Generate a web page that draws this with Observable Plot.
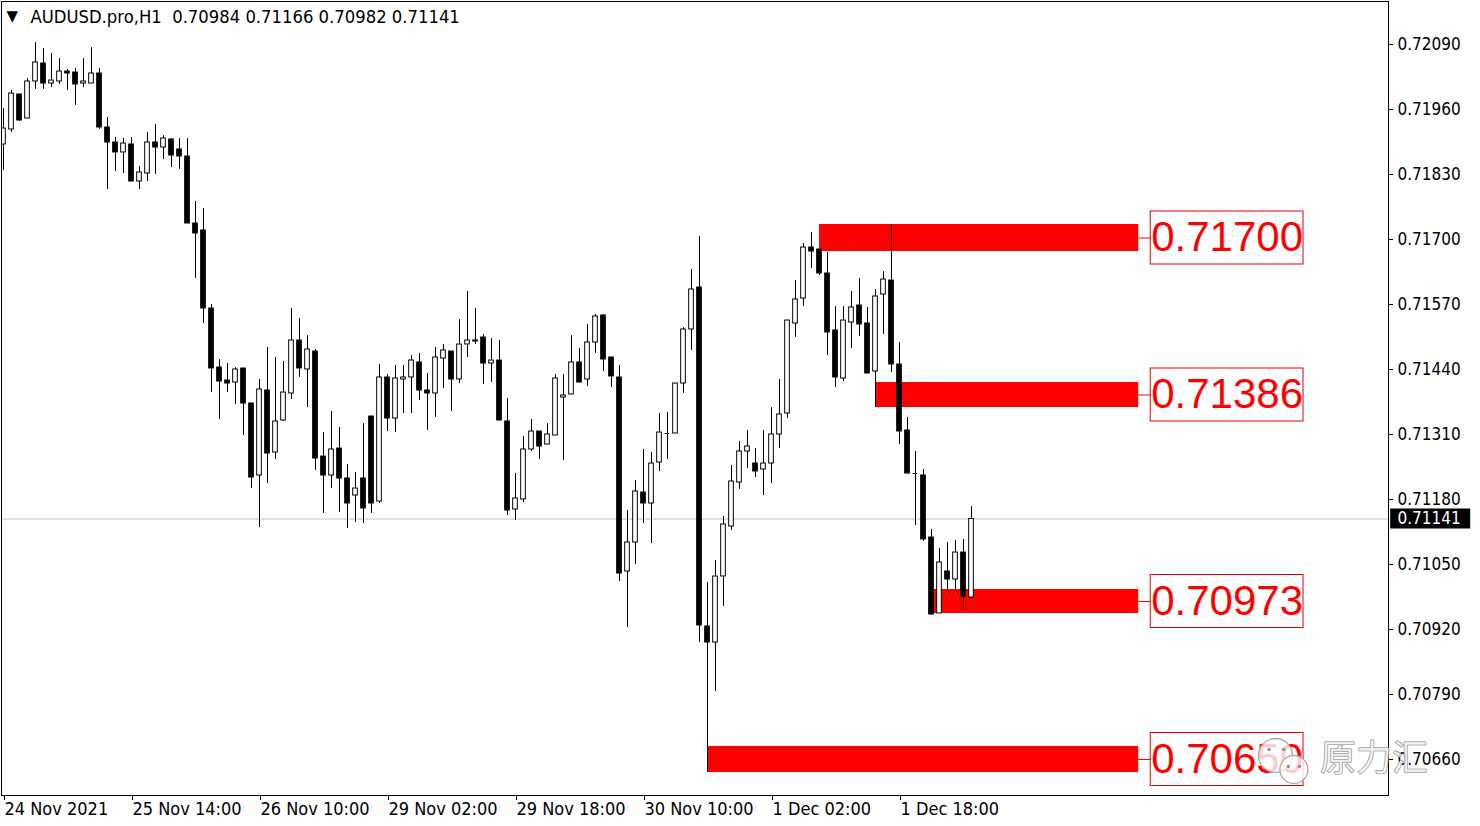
<!DOCTYPE html>
<html>
<head>
<meta charset="utf-8">
<script src="https://cdn.jsdelivr.net/npm/d3@7"></script>
<script src="https://cdn.jsdelivr.net/npm/@observablehq/plot@0.6"></script>
<style>
  html, body { margin: 0; padding: 0; background: #ffffff; }
  #chart svg { display: block; }
</style>
</head>
<body>
<div id="chart"></div>
<script>
// ---------- data ----------
const symbol = "AUDUSD.pro,H1";
const lastOHLC = [0.70984, 0.71166, 0.70982, 0.71141];
const currentPrice = 0.71141;

const open = [0.71890,0.71920,0.71990,0.71942,0.72016,0.72052,0.72012,0.72016,0.72036,0.72034,
0.72012,0.72012,0.72032,0.71924,0.71894,0.71874,0.71890,0.71816,0.71832,0.71894,
0.71884,0.71900,0.71880,0.71866,0.71732,0.71718,0.71562,0.71444,0.71418,0.71414,
0.71442,0.71372,0.71228,0.71398,0.71274,0.71338,0.71392,0.71498,0.71440,0.71476,
0.71266,0.71228,0.71282,0.71222,0.71188,0.71222,0.71346,0.71176,0.71424,0.71342,
0.71420,0.71424,0.71454,0.71398,0.71392,0.71462,0.71476,0.71420,0.71490,0.71496,
0.71504,0.71452,0.71458,0.71336,0.71160,0.71180,0.71280,0.71316,0.71290,0.71308,
0.71384,0.71390,0.71454,0.71420,0.71494,0.71548,0.71464,0.71424,0.71036,0.71094,
0.71194,0.71172,0.71254,0.71312,0.71312,0.71412,0.71520,0.71604,0.70926,0.70894,
0.71026,0.71126,0.71214,0.71276,0.71252,0.71240,0.71252,0.71310,0.71352,0.71532,
0.71582,0.71684,0.71680,0.71632,0.71518,0.71422,0.71534,0.71568,0.71532,0.71436,
0.71590,0.71618,0.71450,0.71318,0.71232,0.71228,0.71104,0.70952,0.71036,0.71020,
0.71074,0.70984];

const high = [0.71962,0.71998,0.71990,0.72022,0.72094,0.72082,0.72072,0.72062,0.72040,0.72042,
0.72062,0.72084,0.72042,0.71944,0.71904,0.71902,0.71904,0.71846,0.71914,0.71930,
0.71908,0.71902,0.71902,0.71902,0.71776,0.71762,0.71570,0.71460,0.71452,0.71444,
0.71442,0.71372,0.71420,0.71484,0.71464,0.71456,0.71562,0.71542,0.71508,0.71480,
0.71314,0.71356,0.71324,0.71250,0.71234,0.71332,0.71346,0.71450,0.71430,0.71448,
0.71448,0.71468,0.71472,0.71432,0.71484,0.71490,0.71476,0.71540,0.71596,0.71562,
0.71510,0.71502,0.71498,0.71382,0.71232,0.71306,0.71340,0.71316,0.71332,0.71430,
0.71430,0.71508,0.71482,0.71530,0.71550,0.71550,0.71464,0.71448,0.71158,0.71218,
0.71280,0.71274,0.71352,0.71354,0.71412,0.71524,0.71640,0.71706,0.71014,0.71058,
0.71146,0.71248,0.71296,0.71318,0.71282,0.71318,0.71364,0.71420,0.71538,0.71618,
0.71692,0.71714,0.71680,0.71674,0.71566,0.71566,0.71596,0.71622,0.71564,0.71600,
0.71636,0.71730,0.71494,0.71344,0.71276,0.71240,0.71120,0.71082,0.71094,0.71098,
0.71100,0.71166];

const low = [0.71838,0.71914,0.71936,0.71942,0.72000,0.72000,0.72004,0.72010,0.71998,0.71968,
0.72004,0.72012,0.71920,0.71800,0.71836,0.71832,0.71816,0.71800,0.71816,0.71830,
0.71860,0.71844,0.71840,0.71732,0.71622,0.71532,0.71394,0.71340,0.71394,0.71370,
0.71308,0.71202,0.71124,0.71212,0.71260,0.71336,0.71380,0.71424,0.71364,0.71238,
0.71152,0.71202,0.71154,0.71122,0.71134,0.71132,0.71152,0.71172,0.71316,0.71314,
0.71352,0.71352,0.71378,0.71318,0.71344,0.71402,0.71356,0.71412,0.71464,0.71490,
0.71410,0.71414,0.71338,0.71148,0.71138,0.71174,0.71276,0.71260,0.71290,0.71308,
0.71258,0.71390,0.71414,0.71406,0.71472,0.71436,0.71404,0.71016,0.70924,0.71050,
0.71132,0.71092,0.71236,0.71260,0.71312,0.71392,0.71478,0.70894,0.70634,0.70796,
0.70966,0.71118,0.71200,0.71242,0.71224,0.71188,0.71212,0.71282,0.71342,0.71504,
0.71566,0.71642,0.71628,0.71468,0.71404,0.71416,0.71482,0.71506,0.71432,0.71364,
0.71510,0.71434,0.71290,0.71230,0.71128,0.71096,0.70948,0.70952,0.70986,0.70986,
0.70958,0.70982];

const close = [0.71922,0.71992,0.71938,0.72016,0.72054,0.72012,0.72018,0.72036,0.72032,0.72010,
0.72016,0.72032,0.71924,0.71894,0.71874,0.71892,0.71816,0.71834,0.71894,0.71884,
0.71902,0.71868,0.71866,0.71732,0.71712,0.71562,0.71442,0.71416,0.71412,0.71440,
0.71372,0.71224,0.71400,0.71272,0.71336,0.71394,0.71498,0.71442,0.71480,0.71262,
0.71228,0.71280,0.71222,0.71172,0.71202,0.71162,0.71172,0.71424,0.71342,0.71422,
0.71424,0.71458,0.71398,0.71392,0.71464,0.71478,0.71420,0.71490,0.71498,0.71498,
0.71452,0.71458,0.71338,0.71158,0.71182,0.71280,0.71316,0.71286,0.71310,0.71422,
0.71388,0.71454,0.71414,0.71494,0.71546,0.71460,0.71426,0.71032,0.71094,0.71196,
0.71172,0.71252,0.71314,0.71312,0.71412,0.71520,0.71600,0.70928,0.70894,0.71026,
0.71130,0.71216,0.71276,0.71286,0.71236,0.71252,0.71310,0.71350,0.71538,0.71580,
0.71684,0.71676,0.71632,0.71514,0.71424,0.71538,0.71564,0.71530,0.71432,0.71586,
0.71620,0.71450,0.71316,0.71232,0.71232,0.71100,0.70950,0.71054,0.71020,0.71074,
0.70986,0.71141];

// time axis: bar index of each tick, and its label
const timeTickBars = [0, 16, 32, 48, 64, 80, 96, 112];
const timeTickLabels = ["24 Nov 2021", "25 Nov 14:00", "26 Nov 10:00", "29 Nov 02:00",
                        "29 Nov 18:00", "30 Nov 10:00", "1 Dec 02:00", "1 Dec 18:00"];

// price axis ticks
const priceTicks = [0.72090, 0.71960, 0.71830, 0.71700, 0.71570, 0.71440,
                    0.71310, 0.71180, 0.71050, 0.70920, 0.70790, 0.70660];

// horizontal zones (start bar, top, bottom, label)
const zoneStartBar = [102, 109, 116, 88];
const zoneTop      = [0.71730, 0.71414, 0.71000, 0.70686];
const zoneBottom   = [0.71676, 0.71364, 0.70952, 0.70634];
const zoneLabels   = ["0.71700", "0.71386", "0.70973", "0.70650"];
const zoneEndBar = 141.9;

const watermarkText = "原力汇";

// ---------- build tables ----------
const candles = open.map((o, i) => ({i, open: o, high: high[i], low: low[i], close: close[i]}));
const zones = zoneStartBar.map((s, i) => ({
  start: s, end: zoneEndBar, top: zoneTop[i], bottom: zoneBottom[i],
  mid: (zoneTop[i] + zoneBottom[i]) / 2, label: zoneLabels[i]
}));
const titleText = symbol + "\u00a0\u00a0" + lastOHLC.map(v => v.toFixed(5)).join(" ");

// ---------- styles ----------
const uiFont = '"DejaVu Sans Condensed", "Liberation Sans", sans-serif';
const bodyHalf = 0.29;          // half body width in bars
const boxHalfPrice = 0.00053;   // half height of label boxes in price units

const chart = Plot.plot({
  width: 1480,
  height: 826,
  marginLeft: 1,
  marginRight: 92,
  marginTop: 1,
  marginBottom: 31,
  x: {type: "linear", domain: [-0.25, 173.125]},
  y: {type: "linear", domain: [0.70588, 0.72176]},
  style: {background: "#ffffff", fontFamily: uiFont, fontSize: "17px", color: "#000", overflow: "visible"},
  marks: [
    // current price line
    Plot.ruleY([currentPrice], {stroke: "#c0c0c0", strokeWidth: 1}),
    // zones
    Plot.rect(zones, {x1: "start", x2: "end", y1: "bottom", y2: "top", fill: "#ff0000"}),
    // connectors
    Plot.ruleY(zones, {y: "mid", x1: "end", x2: d => d.end + 1.5, stroke: "#ff0000", strokeWidth: 1}),
    // label boxes
    Plot.rect(zones, {x1: d => d.end + 1.5, x2: d => d.end + 20.6,
                      y1: d => d.mid - boxHalfPrice, y2: d => d.mid + boxHalfPrice,
                      fill: "#ffffff", stroke: "#e00000", strokeWidth: 1}),
    Plot.text(zones, {x: d => d.end + 11.05, y: "mid", text: "label", fill: "#ff0000",
                      fontSize: 42, fontFamily: '"Liberation Sans", Arial, sans-serif',
                      textAnchor: "middle", lineAnchor: "middle"}),
    // wicks
    Plot.ruleX(candles, {x: "i", y1: "low", y2: "high", stroke: "#000", strokeWidth: 1, clip: true}),
    // bodies
    Plot.rect(candles.filter(d => d.open !== d.close), {
      x1: d => d.i - bodyHalf, x2: d => d.i + bodyHalf, y1: "open", y2: "close",
      fill: d => d.close > d.open ? "white" : "black", stroke: "black", strokeWidth: 1, clip: true
    }),
    Plot.ruleY(candles.filter(d => d.open === d.close), {
      y: "open", x1: d => d.i - bodyHalf, x2: d => d.i + bodyHalf, stroke: "#000", strokeWidth: 1
    }),
    // frame
    Plot.frame({stroke: "#000", strokeWidth: 1}),
    // axes
    Plot.axisY({ticks: priceTicks, anchor: "right", tickSize: 4, tickPadding: 5,
                tickFormat: d => d.toFixed(5), fontSize: 17}),
    Plot.axisX({ticks: timeTickBars, anchor: "bottom", tickSize: 5, tickPadding: 2,
                tickFormat: d => timeTickLabels[timeTickBars.indexOf(d)],
                textAnchor: "start", dx: 1, fontSize: 18}),
    // current price box
    Plot.rect([currentPrice], {x1: 173.4, x2: 183.4, y1: d => d - 0.0002, y2: d => d + 0.0002, fill: "#000"}),
    Plot.text([currentPrice], {x: 174.25, y: d => d, text: d => d.toFixed(5), fill: "#fff",
                               textAnchor: "start", fontSize: 17}),
    // title
    Plot.text(["\u25BC"], {frameAnchor: "top-left", dx: 5, dy: 9, text: d => d, fontSize: 15,
                           textAnchor: "start", lineAnchor: "top", fontFamily: "DejaVu Sans"}),
    Plot.text([titleText], {frameAnchor: "top-left", dx: 29, dy: 8, text: d => d, fontSize: 18.3,
                            textAnchor: "start", lineAnchor: "top"}),
    // watermark (WeChat-style logo + account name)
    Plot.dot([{x: 159, y: 0.70668}], {x: "x", y: "y", r: 17, fill: "#ffffff", fillOpacity: 0.8,
                                      stroke: "#a8a8a8", strokeWidth: 1.3}),
    Plot.dot([{x: 161.3, y: 0.70640}], {x: "x", y: "y", r: 14, fill: "#ffffff", fillOpacity: 0.8,
                                        stroke: "#a8a8a8", strokeWidth: 1.3}),
    Plot.dot([{x: 158.2, y: 0.70680}, {x: 160.0, y: 0.70680}, {x: 160.6, y: 0.70646}, {x: 162.0, y: 0.70646}],
             {x: "x", y: "y", r: 1.7, fill: "#909090"}),
    Plot.text([watermarkText], {x: 171.3, y: 0.70660, text: d => d, fontSize: 36,
                                fontFamily: '"Noto Sans CJK SC", sans-serif',
                                fill: "#f2f2f2", fillOpacity: 0.85, stroke: "#7a7a7a", strokeWidth: 1,
                                textAnchor: "middle", lineAnchor: "middle"})
  ]
});

document.getElementById("chart").appendChild(chart);
</script>
</body>
</html>
